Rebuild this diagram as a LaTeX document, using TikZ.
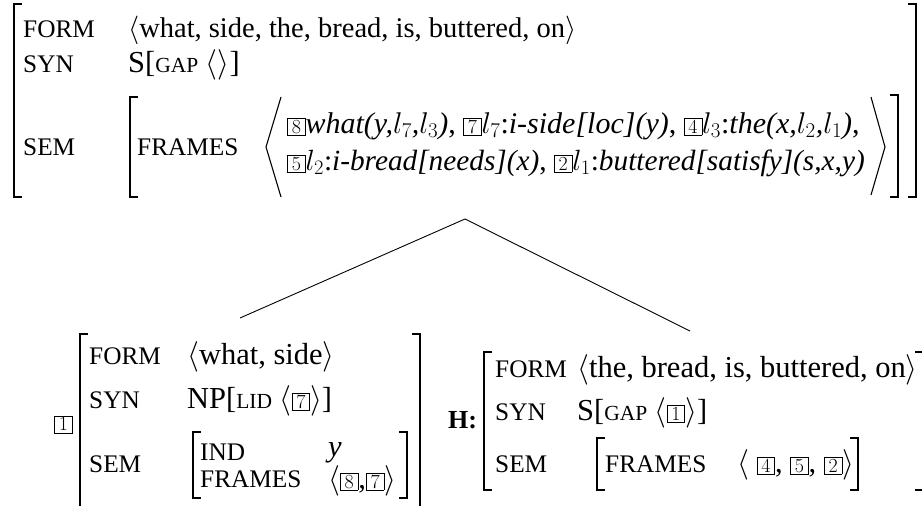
\RequirePackage{fix-cm}
\documentclass[tikz,border=0pt]{standalone}
\usepackage[no-math]{fontspec}
\setmainfont{Liberation Serif}
\newcommand\smc[1]{{\fontsize{21.5}{26}\selectfont #1}}
\newcommand\bx[1]{{\setlength\fboxsep{1.7pt}\setlength\fboxrule{0.7pt}\fbox{\fontsize{20}{20}\selectfont\hspace{2.2pt}$#1$\hspace{2.2pt}}}}
\tikzset{
  txt/.style={anchor=base west, inner sep=0pt, font=\fontsize{30.5}{36}\selectfont},
  lbl/.style={anchor=base west, inner sep=0pt, font=\fontsize{25.3}{30}\selectfont},
  brk/.style={line width=1.6pt, line join=miter},
  ang/.style={line width=1.1pt},
  edge/.style={line width=0.9pt}
}
\begin{document}
\begin{tikzpicture}[x=1pt,y=-1pt]
\useasboundingbox (0,0) rectangle (922,506);
% ---------- top AVM ----------
\draw[brk] (22,4) -- (14,4) -- (14,197) -- (22,197);
\draw[brk] (908,4) -- (916,4) -- (916,197) -- (908,197);
\draw[brk] (138,97) -- (130,97) -- (130,197) -- (138,197);
\draw[brk] (890,95) -- (898,95) -- (898,197) -- (890,197);
\draw[ang] (281,97) -- (266,147) -- (281,197);
\draw[ang] (871,97) -- (885,147) -- (871,195);
\node[lbl] (f0) at (23,37) {FORM};
\node[txt, font=\fontsize{28.5}{34}\selectfont] (v0) at (128,37) {$\langle$what, side, the, bread, is, buttered, on$\rangle$};
\node[lbl] (s0) at (23,72) {SYN};
\node[txt] (sv0) at (128,72) {S[\smc{GAP} $\langle\rangle$]};
\node[lbl] (m0) at (23,155) {SEM};
\node[lbl] (fr0) at (137,155) {FRAMES};
\node[txt, font=\fontsize{30}{36}\selectfont] (r1) at (287,133) {\bx8\textit{what(y,$l_7$,$l_3$)}, \bx7$l_7$:\textit{i-side[loc](y)}, \bx4$l_3$:\textit{the(x,$l_2$,$l_1$)},};
\node[txt, font=\fontsize{29.3}{36}\selectfont] (r2) at (287,170) {\bx5$l_2$:\textit{i-bread[needs](x)}, \bx2$l_1$:\textit{buttered[satisfy](s,x,y)}};
% ---------- tree ----------
\coordinate (apex) at (465,219);
\coordinate (lend) at (240,318);
\coordinate (rend) at (690,331);
\draw[edge] (lend) -- (apex) -- (rend);
% ---------- bottom left AVM ----------
\node[txt, anchor=center] (tag1) at (63.5,424.5) {\bx1};
\draw[brk] (88,334) -- (80,334) -- (80,515);
\draw[brk] (412,334) -- (420,334) -- (420,515);
\draw[brk] (201,432) -- (193,432) -- (193,498) -- (201,498);
\draw[brk] (399,432) -- (407,432) -- (407,498) -- (399,498);
\node[lbl] (f1) at (89,364) {FORM};
\node[txt] (v1) at (187,364) {$\langle$what, side$\rangle$};
\node[lbl] (s1) at (89,408) {SYN};
\node[txt] (sv1) at (187,408) {NP[\smc{LID} $\langle$\bx7$\rangle$]};
\node[lbl] (m1) at (89,472) {SEM};
\node[lbl] (ind1) at (200,460) {IND};
\node[txt] (y1) at (328,456) {\textit{y}};
\node[lbl] (fr1) at (200,487) {FRAMES};
\node[txt] (fv1) at (328,488) {$\langle$\bx8,\bx7$\rangle$};
% ---------- head ----------
\node[anchor=base west, inner sep=0pt, font=\fontsize{26}{30}\selectfont\bfseries] (H) at (448,428) {H:};
% ---------- bottom right AVM ----------
\draw[brk] (492,352) -- (484,352) -- (484,490) -- (492,490);
\draw[brk] (915,352) -- (923,352) -- (923,490) -- (915,490);
\draw[brk] (605,438) -- (597,438) -- (597,490) -- (605,490);
\draw[brk] (850,438) -- (858,438) -- (858,490) -- (850,490);
\node[lbl] (f2) at (495,377) {FORM};
\node[txt] (v2) at (577,377) {$\langle$the, bread, is, buttered, on$\rangle$};
\node[lbl] (s2) at (495,420) {SYN};
\node[txt] (sv2) at (577,420) {S[\smc{GAP} $\langle$\bx1$\rangle$]};
\node[lbl] (m2) at (495,472) {SEM};
\node[lbl] (fr2) at (605,472) {FRAMES};
\node[txt] (fv2) at (737,472) {$\langle$ \bx4, \bx5, \bx2$\rangle$};
\end{tikzpicture}
\end{document}
